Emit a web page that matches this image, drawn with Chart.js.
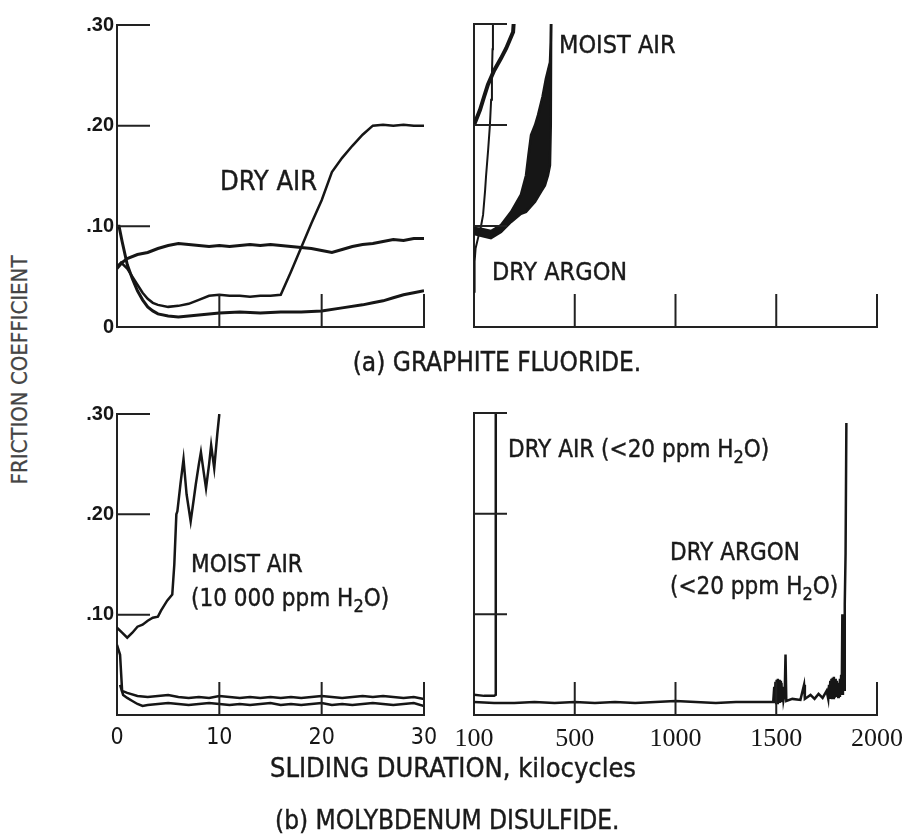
<!DOCTYPE html>
<html>
<head>
<meta charset="utf-8">
<script src="https://cdn.jsdelivr.net/npm/chart.js@4.4.0/dist/chart.umd.min.js"></script>
<style>
  body { margin: 0; background: #fff; width: 905px; height: 837px; position: relative; overflow: hidden;
         font-family: 'Liberation Sans Narrow', 'DejaVu Sans Condensed', 'Liberation Sans', sans-serif; color: #1a1a1a; }
  canvas { position: absolute; }
  .t { position: absolute; white-space: nowrap; line-height: 1; -webkit-text-stroke: 0.4px #1a1a1a; }
  .t sub { font-size: 0.75em; vertical-align: -0.35em; line-height: 0; }
  .c { transform: translateX(-50%); }
</style>
</head>
<body>
<canvas id="tl"></canvas>
<canvas id="tr"></canvas>
<canvas id="bl"></canvas>
<canvas id="br"></canvas>

<div class="t" style="left:20px;top:370px;font-size:22px;color:#444;-webkit-text-stroke:0.3px #444;transform:translate(-50%,-50%) rotate(-90deg);">FRICTION COEFFICIENT</div>

<div class="t" style="left:220px;top:167px;font-size:27px;">DRY AIR</div>
<div class="t" style="left:559px;top:32px;font-size:25px;">MOIST AIR</div>
<div class="t" style="left:492px;top:259px;font-size:25px;">DRY ARGON</div>
<div class="t c" style="left:497px;top:349px;font-size:26px;">(a) GRAPHITE FLUORIDE.</div>

<div class="t" style="left:191px;top:552px;font-size:24px;">MOIST AIR</div>
<div class="t" style="left:191px;top:586px;font-size:24px;">(10 000 ppm H<sub>2</sub>O)</div>
<div class="t" style="left:508px;top:437px;font-size:24px;">DRY AIR (&lt;20 ppm H<sub>2</sub>O)</div>
<div class="t" style="left:670px;top:540px;font-size:24px;">DRY ARGON</div>
<div class="t" style="left:670px;top:574px;font-size:24px;">(&lt;20 ppm H<sub>2</sub>O)</div>
<div class="t" style="left:270px;top:754px;font-size:27px;">SLIDING DURATION, kilocycles</div>
<div class="t" style="left:275px;top:807px;font-size:26px;">(b) MOLYBDENUM DISULFIDE.</div>

<script>
// ---- tick labels ----
const shortTicks = [0, 10, 20, 30];
const shortTickLabels = ['0', '10', '20', '30'];
const longTicks = [0, 500, 1000, 1500, 2000];
const longTickLabels = ['100', '500', '1000', '1500', '2000'];
const yTicks = [0, 0.1, 0.2, 0.3];
const yTickLabelsTop = ['0', '.10', '.20', '.30'];
const yTickLabelsBottom = ['', '.10', '.20', '.30'];

// ---- (a) graphite fluoride, 0-30 kilocycles ----
const gfMoistAir = [[0,0.058],[0.5,0.064],[1,0.068],[2,0.072],[3,0.074],[4,0.078],[5,0.081],[6,0.083],[7,0.082],
  [8,0.081],[9,0.080],[10,0.081],[11,0.080],[12,0.081],[13,0.082],[14,0.081],[15,0.082],[16,0.081],[17,0.080],
  [18,0.079],[19,0.078],[20,0.076],[21,0.074],[22,0.077],[23,0.080],[24,0.082],[25,0.083],[26,0.085],[27,0.087],
  [28,0.086],[29,0.088],[30,0.088]];
const gfDryAir = [[0,0.060],[0.4,0.064],[1,0.058],[1.5,0.050],[2,0.042],[2.5,0.034],[3,0.028],[3.5,0.024],[4,0.022],
  [5,0.020],[6,0.021],[7,0.023],[8,0.027],[9,0.031],[10,0.032],[11,0.031],[12,0.031],[13,0.030],[14,0.031],[15,0.031],
  [16,0.032],[17,0.055],[18,0.079],[19,0.103],[20,0.126],[21,0.154],[22,0.168],[23,0.180],[24,0.191],[25,0.200],
  [26,0.201],[27,0.200],[28,0.201],[29,0.200],[30,0.200]];
const gfDryArgon = [[0,0.100],[0.2,0.100],[0.5,0.085],[1,0.062],[1.5,0.048],[2,0.036],[2.5,0.027],[3,0.020],[3.5,0.016],
  [4,0.013],[5,0.011],[6,0.010],[7,0.011],[8,0.012],[9,0.013],[10,0.014],[12,0.015],[14,0.014],[16,0.015],[18,0.015],
  [20,0.016],[22,0.019],[24,0.022],[25,0.024],[26,0.026],[27,0.029],[28,0.032],[29,0.034],[30,0.036]];

// ---- (a) graphite fluoride, long runs ----
const gfDryArgonLong = [[0,0.035],[2,0.050],[4,0.065],[8,0.078],[20,0.088],[35,0.100],[45,0.111],[55,0.135],[60,0.150],
  [70,0.175],[79,0.200],[85,0.225],[89,0.250],[92,0.275],[94,0.300],[95,0.310]];
const gfDryAirLong = [[0,0.200],[10,0.205],[30,0.215],[50,0.228],[69,0.240],[100,0.254],[134,0.266],[160,0.276],
  [194,0.292],[200,0.310]];
const gfMoistAirHigh = [[0,0.098],[40,0.097],[84,0.095],[134,0.101],[184,0.114],[233,0.131],[258,0.150],[270,0.170],
  [283,0.190],[303,0.200],[318,0.210],[340,0.228],[357,0.246],[372,0.258],[377,0.262],[381,0.282],[383,0.310]];
const gfMoistAirLow = [[0,0.092],[40,0.090],[84,0.088],[134,0.094],[184,0.104],[233,0.112],[258,0.114],[280,0.119],
  [303,0.124],[333,0.134],[352,0.140],[367,0.150],[377,0.160],[381,0.200],[383,0.310]];

// ---- (b) molybdenum disulfide, 0-30 kilocycles ----
const mdMoistAir = [[0,0.087],[0.5,0.082],[1,0.077],[1.5,0.082],[2,0.088],[2.5,0.090],[3,0.094],[3.5,0.097],[4,0.098],
  [4.3,0.104],[4.9,0.114],[5.4,0.120],[5.6,0.150],[5.8,0.200],[5.9,0.203],[6.2,0.230],[6.5,0.255],[6.8,0.220],
  [7.2,0.193],[7.5,0.215],[7.7,0.230],[8.0,0.250],[8.2,0.262],[8.5,0.240],[8.7,0.226],[9.0,0.250],[9.2,0.269],
  [9.5,0.246],[9.8,0.280],[10.0,0.300]];
const mdDryAir = [[0,0.070],[0.3,0.060],[0.5,0.024],[1,0.022],[2,0.019],[3,0.018],[4,0.019],[5,0.020],[6,0.018],
  [7,0.017],[8,0.018],[9,0.017],[10,0.019],[11,0.018],[12,0.017],[13,0.018],[14,0.017],[15,0.018],[16,0.017],
  [17,0.018],[18,0.017],[19,0.018],[20,0.019],[21,0.018],[22,0.017],[23,0.018],[24,0.019],[25,0.018],[26,0.019],
  [27,0.018],[28,0.017],[29,0.018],[30,0.016]];
const mdDryArgon = [[0.3,0.030],[0.6,0.020],[1,0.017],[1.5,0.014],[2,0.011],[2.5,0.009],[3,0.010],[4,0.011],[5,0.012],
  [6,0.011],[7,0.010],[8,0.011],[9,0.012],[10,0.011],[11,0.010],[12,0.011],[13,0.010],[14,0.011],[15,0.012],
  [16,0.010],[17,0.011],[18,0.010],[19,0.011],[20,0.012],[21,0.010],[22,0.011],[23,0.010],[24,0.011],[25,0.012],
  [26,0.011],[27,0.010],[28,0.011],[29,0.012],[30,0.009]];

// ---- (b) molybdenum disulfide, long runs ----
const mdDryAirLong = [[0,0.020],[50,0.019],[100,0.019],[108,0.020],[108,0.310]];
const mdDryArgonLong = [[0,0.013],[100,0.012],[200,0.012],[300,0.013],[400,0.012],[500,0.013],[600,0.012],[700,0.013],
  [800,0.012],[900,0.013],[1000,0.014],[1100,0.013],[1200,0.012],[1300,0.013],[1400,0.013],[1485,0.013],
  [1490,0.028],[1493,0.012],[1496,0.033],[1499,0.012],[1502,0.035],[1505,0.012],[1508,0.036],[1511,0.013],
  [1514,0.035],[1517,0.012],[1520,0.034],[1523,0.013],[1526,0.032],[1529,0.014],[1532,0.028],[1536,0.015],
  [1542,0.022],[1546,0.060],[1550,0.014],[1580,0.016],[1620,0.015],[1638,0.030],[1642,0.016],[1670,0.020],
  [1690,0.016],[1710,0.021],[1730,0.017],[1750,0.024],[1758,0.016],[1762,0.030],[1765,0.016],[1768,0.034],
  [1771,0.016],[1774,0.036],[1777,0.017],[1780,0.037],[1783,0.017],[1786,0.038],[1789,0.017],[1792,0.036],
  [1795,0.018],[1798,0.034],[1801,0.018],[1804,0.030],[1807,0.018],[1810,0.032],[1813,0.019],[1816,0.036],
  [1819,0.020],[1822,0.040],[1825,0.020],[1828,0.100],[1831,0.020],[1834,0.100],[1837,0.025],[1840,0.110],
  [1844,0.160],[1848,0.290]];

const INK = '#161616';

// draws the short inward tick marks of the original
const inTicks = {
  id: 'inTicks',
  afterDatasetsDraw(chart, args, opts) {
    const { ctx, chartArea: a, scales: { x, y } } = chart;
    ctx.save();
    ctx.strokeStyle = '#222';
    ctx.lineWidth = 2;
    ctx.beginPath();
    opts.x.forEach(v => {
      const px = x.getPixelForValue(v);
      ctx.moveTo(px, a.bottom);
      ctx.lineTo(px, a.bottom - opts.len);
    });
    opts.y.forEach(v => {
      const py = y.getPixelForValue(v);
      ctx.moveTo(a.left, py);
      ctx.lineTo(a.left + opts.len, py);
    });
    ctx.stroke();
    ctx.restore();
  }
};

function series(points, width, extra) {
  return Object.assign({
    data: points.map(p => ({ x: p[0], y: p[1] })),
    borderColor: INK,
    borderWidth: width,
    pointRadius: 0,
    tension: 0,
    fill: false
  }, extra || {});
}

function makePanel(id, area, cfg) {
  const L = cfg.yw, T = 14, R = 40, B = 50;
  const c = document.getElementById(id);
  c.width = area.w + L + R;
  c.height = area.h + T + B;
  c.style.left = (area.x - L) + 'px';
  c.style.top = (area.y - T) + 'px';

  new Chart(c, {
    type: 'line',
    data: { datasets: cfg.datasets },
    options: {
      responsive: false,
      animation: false,
      layout: { padding: { top: T, right: R, left: 0, bottom: 0 } },
      plugins: {
        legend: { display: false },
        tooltip: { enabled: false },
        inTicks: { x: cfg.inX, y: [0.1, 0.2, 0.3], len: 33 }
      },
      scales: {
        x: {
          type: 'linear',
          min: cfg.xTicks[0],
          max: cfg.xTicks[cfg.xTicks.length - 1],
          afterFit: s => { s.height = B; },
          afterBuildTicks: s => { s.ticks = cfg.xTicks.map(v => ({ value: v })); },
          grid: { display: false, drawTicks: false },
          border: { color: '#222', width: 2 },
          ticks: {
            display: cfg.xLabels,
            autoSkip: false,
            maxRotation: 0,
            padding: 9,
            color: INK,
            font: cfg.xFont,
            callback: (v, i) => cfg.xTickLabels[i]
          }
        },
        y: {
          type: 'linear',
          min: 0,
          max: 0.3,
          afterFit: s => { s.width = L; },
          afterBuildTicks: s => { s.ticks = yTicks.map(v => ({ value: v })); },
          grid: { display: false, drawTicks: false },
          border: { color: '#222', width: 2 },
          ticks: {
            display: !!cfg.yTickLabels,
            padding: 3,
            color: INK,
            font: { family: 'Liberation Sans', size: 20, weight: 'bold' },
            callback: (v, i) => cfg.yTickLabels ? cfg.yTickLabels[i] : ''
          }
        }
      }
    },
    plugins: [inTicks]
  });
}

const sansTicks = { family: "'Liberation Sans Narrow', 'DejaVu Sans Condensed', 'Liberation Sans', sans-serif", size: 23 };
const serifTicks = { family: "'Liberation Serif', serif", size: 26 };

makePanel('tl', { x: 117, y: 24, w: 307, h: 303 }, {
  yw: 80, xTicks: shortTicks, xTickLabels: shortTickLabels, xLabels: false, xFont: sansTicks,
  inX: [10, 20, 30], yTickLabels: yTickLabelsTop,
  datasets: [series(gfMoistAir, 3), series(gfDryAir, 2.5), series(gfDryArgon, 3)]
});

makePanel('tr', { x: 474, y: 24, w: 403, h: 303 }, {
  yw: 40, xTicks: longTicks, xTickLabels: longTickLabels, xLabels: false, xFont: serifTicks,
  inX: [500, 1000, 1500, 2000], yTickLabels: null,
  datasets: [
    series(gfDryArgonLong, 2),
    series(gfDryAirLong, 4),
    series(gfMoistAirHigh, 2.5),
    series(gfMoistAirLow, 2.5, { fill: '-1', backgroundColor: INK })
  ]
});

makePanel('bl', { x: 117, y: 413, w: 307, h: 302 }, {
  yw: 80, xTicks: shortTicks, xTickLabels: shortTickLabels, xLabels: true, xFont: sansTicks,
  inX: [10, 20, 30], yTickLabels: yTickLabelsBottom,
  datasets: [series(mdMoistAir, 2.5), series(mdDryAir, 2.5), series(mdDryArgon, 2.5)]
});

makePanel('br', { x: 474, y: 413, w: 403, h: 302 }, {
  yw: 40, xTicks: longTicks, xTickLabels: longTickLabels, xLabels: true, xFont: serifTicks,
  inX: [500, 1000, 1500, 2000], yTickLabels: null,
  datasets: [series(mdDryAirLong, 2.5), series(mdDryArgonLong, 2.5)]
});
</script>
</body>
</html>
